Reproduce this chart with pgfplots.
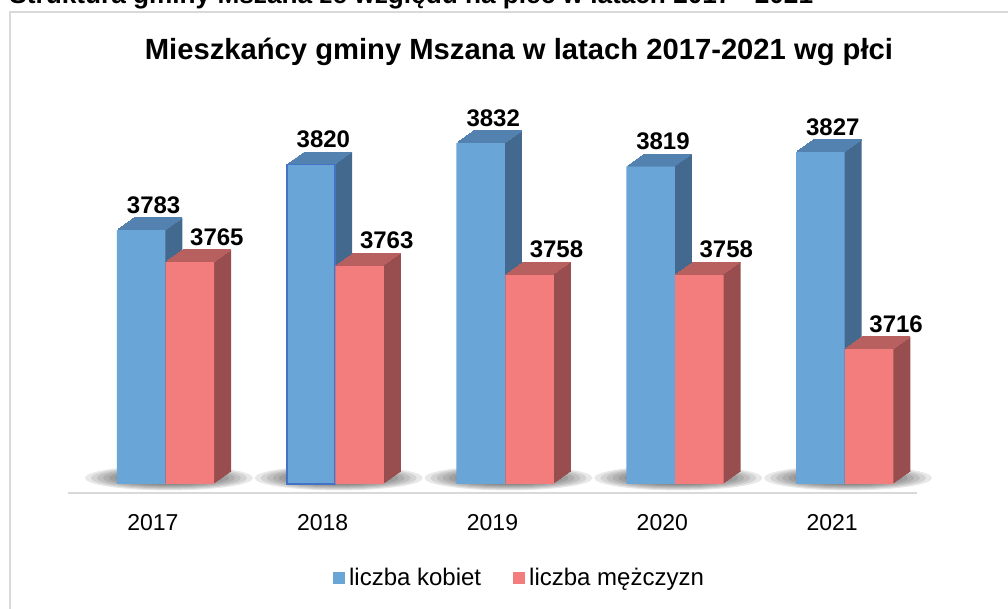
\documentclass[border=0pt]{standalone}
\usepackage{pgfplots}
\pgfplotsset{compat=1.18}
\usepackage{pgfplotstable}
\usepackage{fontspec}
\setmainfont{Liberation Sans}

\definecolor{blueF}{RGB}{106,165,216}
\definecolor{blueT}{RGB}{84,130,176}
\definecolor{blueS}{RGB}{68,105,142}
\definecolor{redF}{RGB}{243,124,124}
\definecolor{redT}{RGB}{184,96,96}
\definecolor{redS}{RGB}{152,78,78}
\definecolor{framec}{RGB}{217,217,217}
\definecolor{selb}{RGB}{68,114,196}

\pgfplotstableread{
year kob mez
2017 3783 3765
2018 3820 3763
2019 3832 3758
2020 3819 3758
2021 3827 3716
}\data

% #1 column, #2 bar shift, #3 side colour, #4 top colour
\newcommand{\bardepth}[4]{%
  \pgfplotsinvokeforeach{12,11,...,1}{%
    \addplot[forget plot, ybar, bar width=24.25pt, bar shift=#2, fill=#3, draw=none,
      xshift=##1*0.7083pt, yshift=##1*0.5pt]
      table[x expr=\coordindex, y expr=\thisrow{#1}-3640]{\data};
  }%
  \pgfplotsinvokeforeach{12,11,...,1}{%
    \addplot[forget plot, only marks, mark=-, mark size=12.125pt,
      mark options={draw=#4, line width=0.7pt},
      xshift=#2+##1*0.7083pt, yshift=##1*0.5pt]
      table[x expr=\coordindex, y expr=\thisrow{#1}-3640]{\data};
  }%
}

\begin{document}
\begin{tikzpicture}
\path[use as bounding box] (0,0) rectangle (504pt,304.5pt);
\clip (0,0) rectangle (504pt,304.5pt);
\draw[framec, line width=1.2pt] (5pt,-20pt) rectangle (540pt,298.5pt);
\node[anchor=base west, inner sep=0pt, font=\fontsize{13.1}{15}\selectfont\bfseries]
  at (4.5pt,302.5pt) {Struktura gminy Mszana ze względu na płeć w latach 2017 - 2021};
\node[anchor=base, inner sep=0pt, font=\fontsize{14.6}{17}\selectfont\bfseries]
  at (259.5pt,274.5pt) {Mieszkańcy gminy Mszana w latach 2017-2021 wg płci};

\begin{axis}[
  at={(34pt,58pt)}, anchor=south west,
  scale only axis, width=424.5pt, height=182pt,
  xmin=-0.5, xmax=4.5, ymin=-5.07, ymax=200,
  clip=false,
  axis x line*=bottom, axis y line=none,
  x axis line style={draw=framec, line width=1.2pt},
  xtick={0,1,2,3,4}, xticklabels={2017,2018,2019,2020,2021},
  xtick style={draw=none},
  xticklabel style={font=\fontsize{11.5}{13}\selectfont, anchor=base, inner sep=0pt, yshift=-19pt},
  legend columns=2,
  legend style={at={(0.533,-0.2335)}, anchor=center, draw=none, fill=none,
    font=\fontsize{12}{14}\selectfont,
    nodes={inner xsep=2pt, inner ysep=1pt},
    /tikz/every even column/.append style={column sep=14pt}},
  legend image code/.code={\fill[#1,draw=none] (0pt,-3pt) rectangle (6pt,3pt);},
]
% soft shadows under the bar groups (stacked translucent ellipses)
\pgfplotsinvokeforeach{0,...,4}{%
  \fill[black, opacity=0.09] ([xshift=8pt,yshift=3pt]axis cs:#1,0) ellipse [x radius=42pt, y radius=6.2pt];
  \fill[black, opacity=0.09] ([xshift=8pt,yshift=3pt]axis cs:#1,0) ellipse [x radius=39pt, y radius=5.7pt];
  \fill[black, opacity=0.09] ([xshift=8pt,yshift=3pt]axis cs:#1,0) ellipse [x radius=36pt, y radius=5.2pt];
  \fill[black, opacity=0.09] ([xshift=8pt,yshift=3pt]axis cs:#1,0) ellipse [x radius=33pt, y radius=4.7pt];
  \fill[black, opacity=0.09] ([xshift=8pt,yshift=3pt]axis cs:#1,0) ellipse [x radius=30pt, y radius=4.2pt];
  \fill[black, opacity=0.09] ([xshift=8pt,yshift=3pt]axis cs:#1,0) ellipse [x radius=27pt, y radius=3.7pt];
  \fill[black, opacity=0.09] ([xshift=8pt,yshift=3pt]axis cs:#1,0) ellipse [x radius=24pt, y radius=3.2pt];
  \fill[black, opacity=0.09] ([xshift=8pt,yshift=3pt]axis cs:#1,0) ellipse [x radius=21pt, y radius=2.7pt];
}

% women
\bardepth{kob}{-5.9pt}{blueS}{blueT}
\addplot[ybar, bar width=24.25pt, bar shift=-5.9pt, fill=blueF, draw=none]
  table[x expr=\coordindex, y expr=\thisrow{kob}-3640]{\data};
\addlegendentry{liczba kobiet}
\addplot[forget plot, ybar, bar width=24.25pt, bar shift=-5.9pt, fill=none, draw=selb, line width=0.9pt]
  table[x expr=\coordindex, y expr=\thisrow{kob}-3640, restrict x to domain=1:1]{\data};

% men
\bardepth{mez}{18.5pt}{redS}{redT}
\addplot[ybar, bar width=24.25pt, bar shift=18.5pt, fill=redF, draw=none]
  table[x expr=\coordindex, y expr=\thisrow{mez}-3640]{\data};
\addlegendentry{liczba mężczyzn}

% data labels
\addplot[forget plot, draw=none, point meta=explicit symbolic, nodes near coords,
  nodes near coords style={font=\fontsize{12}{14}\selectfont\bfseries, anchor=south, inner sep=0pt, xshift=0.35pt, yshift=8pt}]
  table[x expr=\coordindex, y expr=\thisrow{kob}-3640, meta=kob]{\data};
\addplot[forget plot, draw=none, point meta=explicit symbolic, nodes near coords,
  nodes near coords style={font=\fontsize{12}{14}\selectfont\bfseries, anchor=south, inner sep=0pt, xshift=32pt, yshift=8pt}]
  table[x expr=\coordindex, y expr=\thisrow{mez}-3640, meta=mez]{\data};
\end{axis}
\end{tikzpicture}
\end{document}
